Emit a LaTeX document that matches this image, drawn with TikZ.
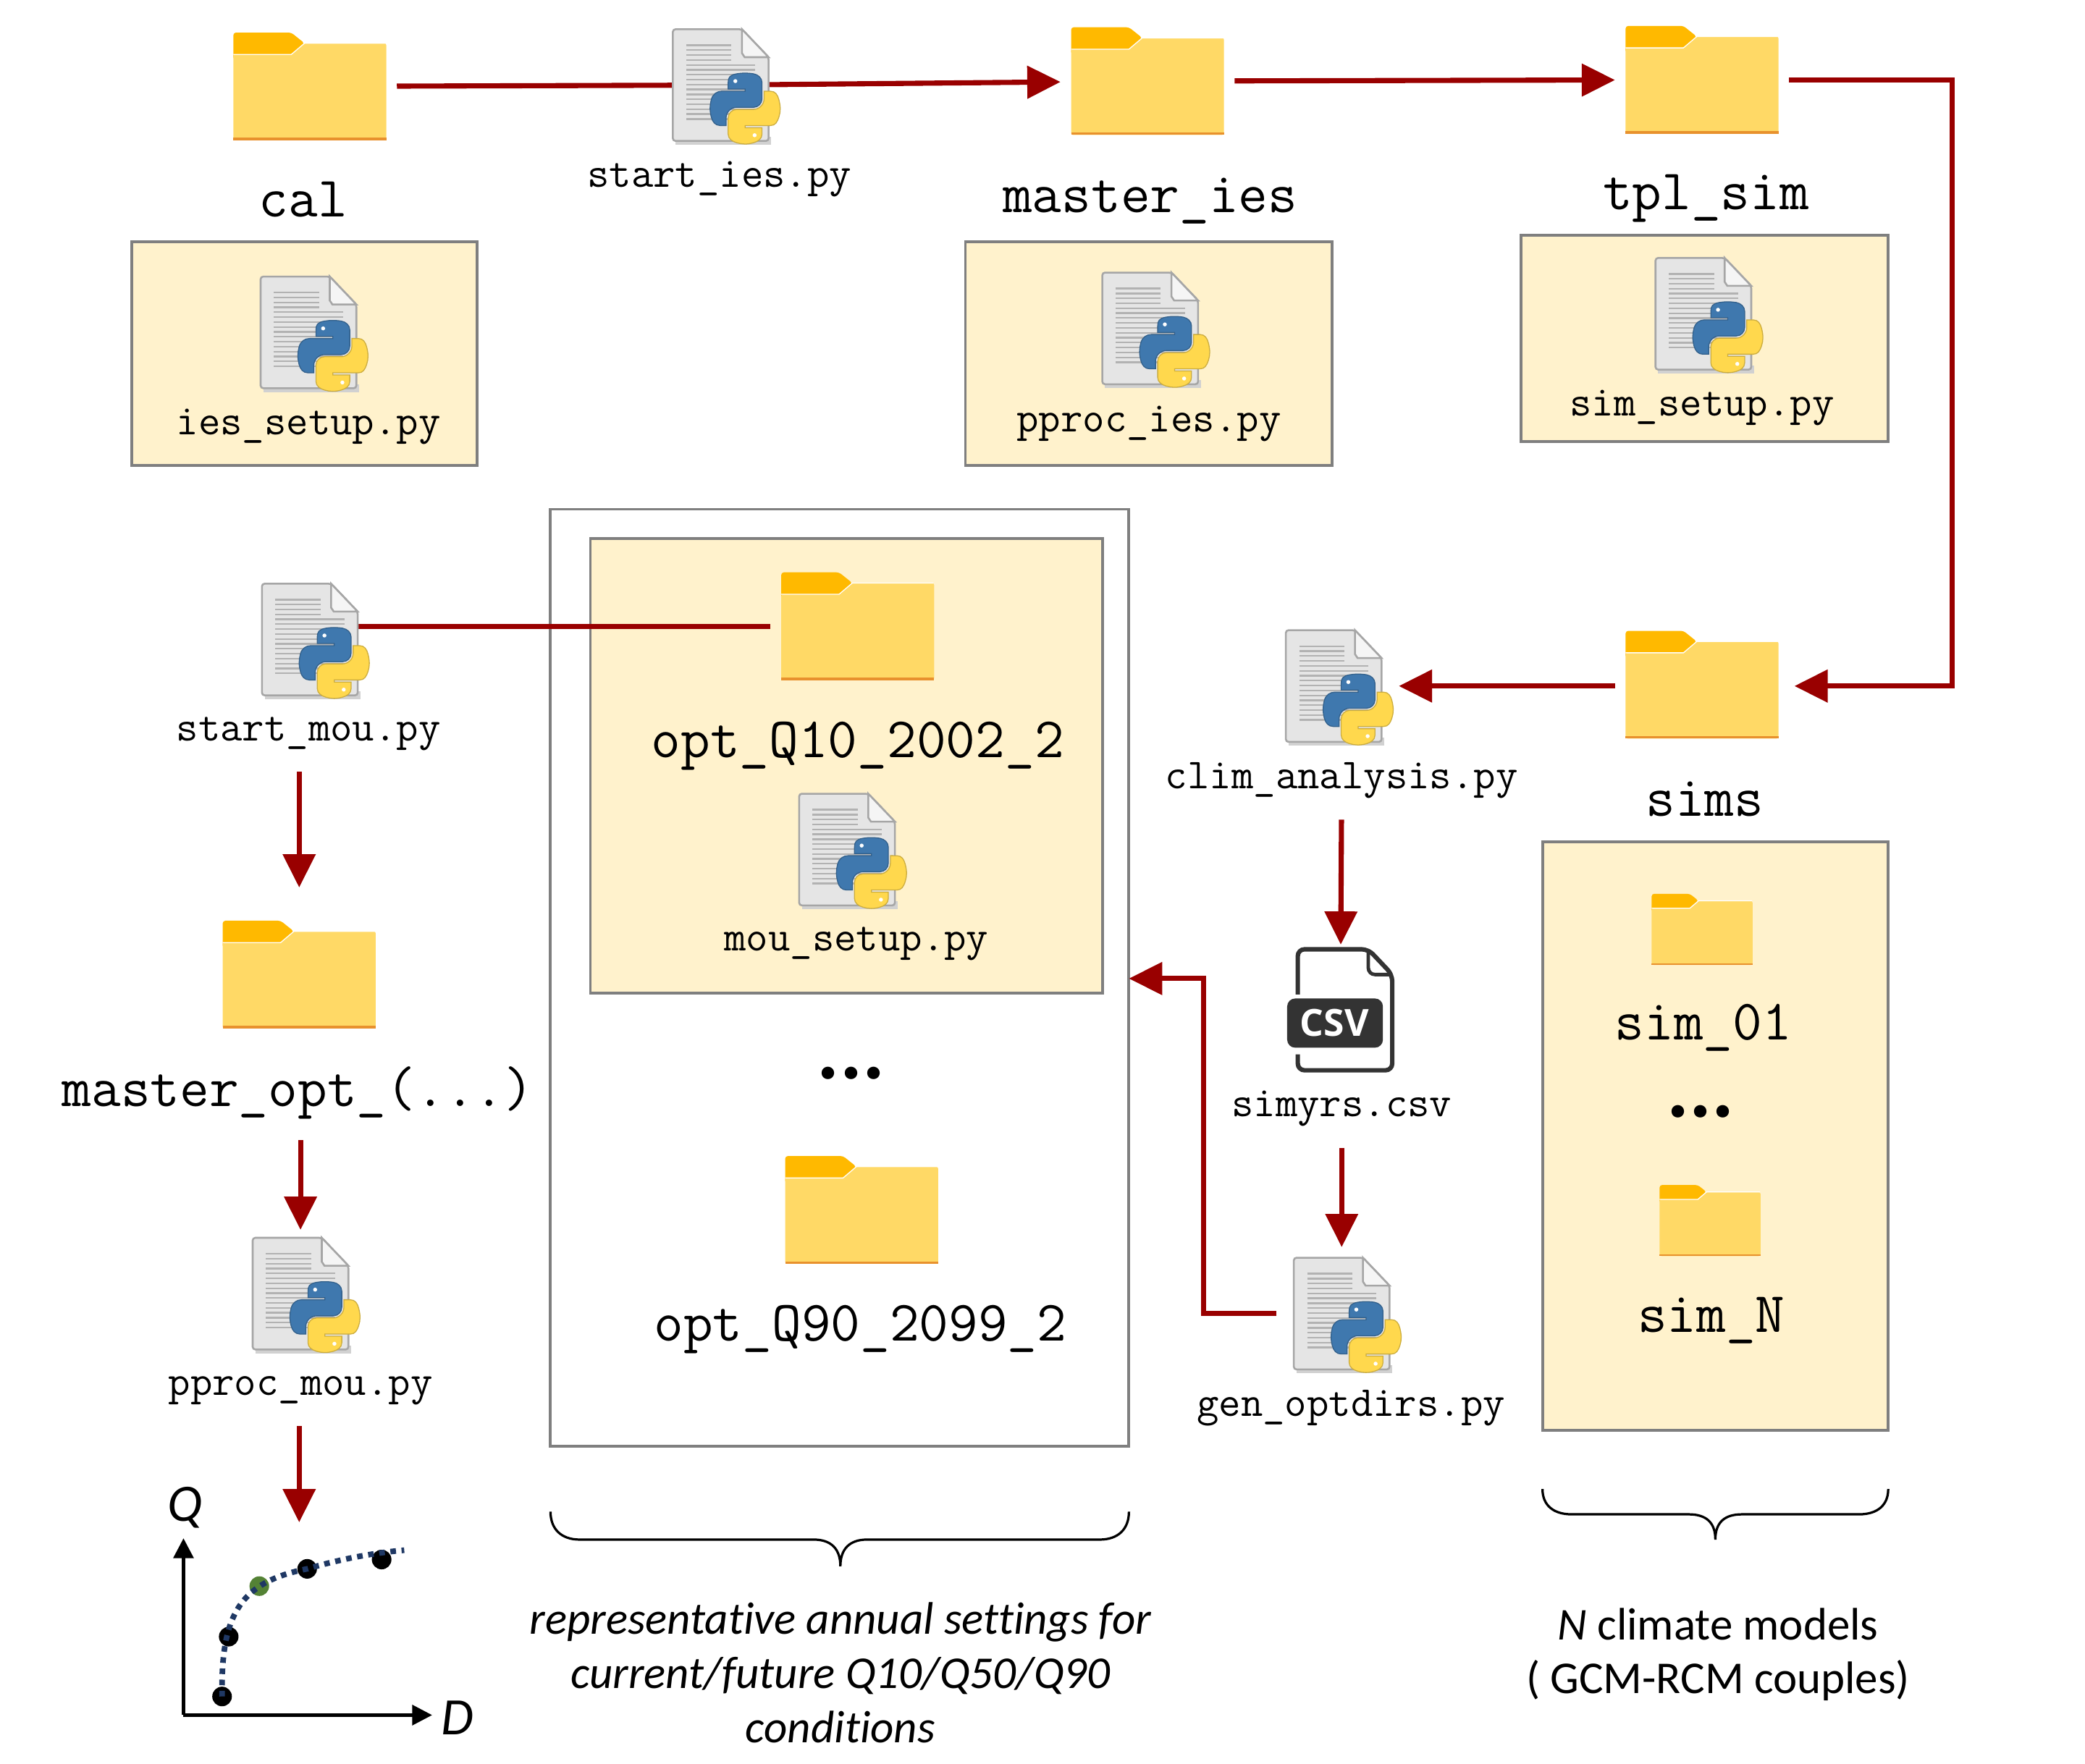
\documentclass[tikz,border=0pt]{standalone}
\usepackage{fontspec}
\usepackage{tikz}
\usetikzlibrary{arrows.meta, positioning, fit, svg.path}
\newfontfamily\calibrifont[Ligatures=NoCommon]{Carlito}
\newfontfamily\csvfont{Open Sans}
\definecolor{flowred}{HTML}{990000}
\definecolor{panelyellow}{HTML}{FFF2CC}
\definecolor{panelgrey}{HTML}{7F7F7F}
\definecolor{foldertab}{HTML}{FFB900}
\definecolor{folderbody}{HTML}{FFD966}
\definecolor{folderedge}{HTML}{E8912D}
\definecolor{curvenavy}{HTML}{1F3864}
\definecolor{pointgreen}{HTML}{548235}
\definecolor{snakeblue}{HTML}{3F78AE}
\definecolor{snakeyellow}{HTML}{FFD84D}
\definecolor{csvdark}{HTML}{333333}
\tikzset{>={Stealth[inset=0pt,length=.5cm,width=.48cm]}}
\tikzset{
	panel/.style={draw=panelgrey, line width=1.2pt, fill=panelyellow, inner sep=0pt, outer sep=0pt},
	whitepanel/.style={panel, fill=white},
	foldernode/.style={inner sep=0pt, minimum width=2.3cm, minimum height=1.62cm, outer sep=.16cm},
	smallfolder/.style={inner sep=0pt, minimum width=1.52cm, minimum height=1.08cm},
	pynode/.style={inner sep=0pt, minimum width=1.44cm, minimum height=1.68cm, outer sep=0pt},
	csvnode/.style={inner sep=0pt, minimum width=1.62cm, minimum height=1.86cm, outer sep=.06cm},
	smalllabel/.style={inner sep=0pt, outer sep=.32cm, font=\ttfamily\fontsize{18.3}{20}\selectfont},
	biglabel/.style={inner sep=0pt, outer sep=.32cm, font=\ttfamily\fontsize{24.5}{26}\selectfont},
	dotslabel/.style={inner sep=0pt, font=\calibrifont\bfseries\fontsize{36}{36}\selectfont},
	axislabel/.style={inner sep=0pt, font=\calibrifont\itshape\fontsize{22.5}{26}\selectfont},
	flow/.style={draw=flowred, line width=2.2pt},
	axisline/.style={line width=1.4pt, -{Stealth[inset=0pt,length=.3cm,width=.3cm]}},
	blackpoint/.style={circle, fill=black, inner sep=0pt, minimum size=.295cm},
	greenpoint/.style={circle, fill=pointgreen, inner sep=0pt, minimum size=.295cm},
	folder/.pic={
		\fill[foldertab, rounded corners=.04cm] (-57.5,-24) -- (-57.5,-40.5) -- (-14,-40.5) -- (-4,-32.5) -- (-14,-20) -- (-57.5,-20) -- cycle;
		\fill[folderbody, rounded corners=.03cm] (-57.5,-24) -- (-14,-24) -- (-4,-32.5) -- (57.5,-32.5) -- (57.5,40.5) -- (-57.5,40.5) -- cycle;
		\draw[white, line width=.4pt] (-57.5,-24) -- (-14,-24) -- (-4,-32.5) -- (57,-32.5);
		\fill[folderedge] (-57.5,38.7) rectangle (57.5,40.5);
	},
	pyfile/.pic={
		\fill[black!18] (-34,39) rectangle (38,45);
		\filldraw[fill=black!10, draw=black!35, line width=.8pt, rounded corners=.04cm] (-36,-42) -- (16,-42) -- (36,-21) -- (36,42) -- (-36,42) -- cycle;
		\filldraw[fill=black!4, draw=black!35, line width=.8pt] (16,-42) -- (36,-21) -- (18,-21) -- (16,-24) -- cycle;
		\foreach \yy in {-30,-26.3,-22.6,-18.9} \draw[black!30, line width=.7pt] (-26,\yy) -- (8,\yy);
		\foreach \yy in {-15.2,-11.5,...,28} \draw[black!30, line width=.7pt] (-26,\yy) -- (26,\yy);
		\filldraw[fill=snakeblue, draw=snakeblue!80!black, line width=.4pt, shift={(-8,-9)}, xscale=.27, yscale=-.27] svg {M 54.92 0 C 50.34 0.02 45.96 0.41 42.11 1.09 C 30.76 3.1 28.7 7.29 28.7 15.03 v 10.22 h 26.81 v 3.41 h -36.87 c -7.79 0 -14.62 4.68 -16.75 13.59 c -2.46 10.21 -2.57 16.59 0 27.25 c 1.91 7.94 6.46 13.59 14.25 13.59 h 9.22 v -12.25 c 0 -8.85 7.66 -16.66 16.75 -16.66 h 26.78 c 7.45 0 13.41 -6.14 13.41 -13.63 v -25.53 c 0 -7.27 -6.13 -12.72 -13.41 -13.94 C 64.28 0.33 59.5 -0.02 54.92 0 Z};
		\filldraw[fill=snakeyellow, draw=snakeyellow!80!black, line width=.4pt, shift={(-8,-9)}, xscale=.27, yscale=-.27] svg {M 85.64 28.66 v 11.91 c 0 9.23 -7.83 17 -16.75 17 h -26.78 c -7.34 0 -13.41 6.28 -13.41 13.63 v 25.53 c 0 7.27 6.32 11.54 13.41 13.63 c 8.49 2.5 16.63 2.95 26.78 0 c 6.75 -1.95 13.41 -5.89 13.41 -13.63 v -10.22 h -26.78 v -3.41 h 40.19 c 7.79 0 10.7 -5.44 13.41 -13.59 c 2.8 -8.4 2.74 -16.48 0 -27.25 c -1.93 -7.76 -5.6 -13.59 -13.41 -13.59 Z};
		\fill[white] (11,-3) circle (1.5);
		\fill[white] (25.5,37.7) circle (1.5);
	},
	csvfile/.pic={
		\draw[csvdark, line width=1.9pt, rounded corners=.1cm] (-32,-12) -- (-32,-46) -- (21,-46) -- (39,-27) -- (39,45) -- (-32,45) -- (-32,33);
		\draw[csvdark, line width=1.5pt, rounded corners=.1cm] (21,-46) -- (21,-27) -- (39,-27);
		\fill[csvdark, rounded corners=.12cm] (-40,-9) rectangle (32,28);
		\node[inner sep=0pt, text=white, font=\csvfont\bfseries\fontsize{16}{18}\selectfont] at (-4.5,9.5) {CSV};
	},
}
\begin{document}
\begin{tikzpicture}[x=.02cm, y=-.02cm]

	\useasboundingbox (0,0) rectangle (1568,1326.3);

	% panels
	\node[panel, fit={(99,182) (359,350)}] (calbox) {};
	\node[panel, fit={(726,182) (1002,350)}] (masterbox) {};
	\node[panel, fit={(1144,177) (1420,332)}] (tplbox) {};
	\node[panel, fit={(1160,633) (1420,1076)}] (simsbox) {};
	\node[whitepanel, fit={(414,383) (849,1088)}] (optbox) {};
	\node[panel, fit={(444,405) (829,747)}] (qtenbox) {};

	% icons
	\node[foldernode] (cal) at (233,65) {};
	\node[foldernode] (masteries) at (863,61) {};
	\node[foldernode] (tplsim) at (1280,60) {};
	\node[foldernode] (sims) at (1280,515) {};
	\node[foldernode] (optqten) at (645,471) {};
	\node[foldernode] (optqninety) at (648,910) {};
	\node[foldernode] (masteropt) at (225,733) {};
	\node[smallfolder] (simone) at (1280,699) {};
	\node[smallfolder] (simn) at (1286,918) {};
	\node[pynode] (starties) at (542,64) {};
	\node[pynode] (iessetup) at (232,250) {};
	\node[pynode] (pprocies) at (865,247) {};
	\node[pynode] (simsetup) at (1281,236) {};
	\node[pynode] (startmou) at (233,481) {};
	\node[pynode] (mousetup) at (637,639) {};
	\node[pynode] (climan) at (1003,516) {};
	\node[pynode] (genopt) at (1009,988) {};
	\node[pynode] (pprocmou) at (226,973) {};
	\node[csvnode] (simyrs) at (1008,760) {};

	% labels
	\node[biglabel] (callbl) at (228,150) {cal};
	\node[biglabel] (masterieslbl) at (865,151) {master\_ies};
	\node[biglabel] (tplsimlbl) at (1283,149) {tpl\_sim};
	\node[biglabel] (simslbl) at (1282,601) {sims};
	\node[biglabel] (simonelbl) at (1281,773) {sim\_01};
	\node[biglabel] (simnlbl) at (1287,993) {sim\_N};
	\node[biglabel] (optqtenlbl) at (645,561) {opt\_Q10\_2002\_2};
	\node[biglabel] (optqninetylbl) at (647,1000) {opt\_Q90\_2099\_2};
	\node[biglabel] (masteroptlbl) at (224,822) {master\_opt\_(...)};
	\node[smalllabel] (startieslbl) at (541,135) {start\_ies.py};
	\node[smalllabel] (iessetuplbl) at (232,321) {ies\_setup.py};
	\node[smalllabel] (pprocieslbl) at (864,319) {pproc\_ies.py};
	\node[smalllabel] (simsetuplbl) at (1280,307) {sim\_setup.py};
	\node[smalllabel] (startmoulbl) at (232,552) {start\_mou.py};
	\node[smalllabel] (mousetuplbl) at (644,710) {mou\_setup.py};
	\node[smalllabel] (climanlbl) at (1009,587) {clim\_analysis.py};
	\node[smalllabel] (simyrslbl) at (1009,834) {simyrs.csv};
	\node[smalllabel] (genoptlbl) at (1016,1059) {gen\_optdirs.py};
	\node[smalllabel] (pprocmoulbl) at (226,1046) {pproc\_mou.py};
	\node[dotslabel] (optdots) at (640,807) {...};
	\node[dotslabel] (simdots) at (1279,836) {...};

	% connectors
	\coordinate (tplcorner) at (1468,60);
	\coordinate (simscorner) at (1468,516);
	\coordinate (chartin) at (225,1145);
	\draw[flow] (cal) -- (starties);
	\draw[flow, ->] (starties) -- (masteries);
	\draw[flow, ->] (masteries) -- (tplsim);
	\draw[flow, ->, shorten >=.08cm] (tplsim.east) -- (tplcorner) -- (simscorner) -- (sims.east |- simscorner);
	\draw[flow, ->, shorten >=.26cm] (sims.west |- simscorner) -- (climan.east |- simscorner);
	\draw[flow, ->] (climanlbl) -- (simyrs);
	\draw[flow, ->, shorten >=.16cm] (simyrslbl) -- (genopt);
	\draw[flow, ->, shorten <=.26cm] (genopt.west) -- (905,988) -- (905,736) -- (optbox.east |- 0,736);
	\draw[flow] (startmou.east |- optqten.west) -- (optqten.west);
	\draw[flow, ->, shorten >=.34cm] (masteropt |- startmoulbl.south) -- (masteropt.north);
	\draw[flow, ->, shorten >=.12cm] (masteroptlbl.south -| pprocmou) -- (pprocmou.north);
	\draw[flow, ->] (chartin |- pprocmoulbl.south) -- (chartin);

	\foreach \n in {cal,masteries,tplsim,sims,optqten,optqninety,masteropt}
		\pic at (\n) {folder};
	\pic[scale=.66] at (simone) {folder};
	\pic[scale=.66] at (simn) {folder};
	\foreach \n in {starties,iessetup,pprocies,simsetup,startmou,mousetup,climan,genopt,pprocmou}
		\pic at (\n) {pyfile};
	\pic at (simyrs) {csvfile};

	% chart
	\coordinate (origin) at (138,1290);
	\coordinate (qtip) at (138,1157);
	\coordinate (dtip) at (325,1290);
	\draw[axisline] (origin) -- (qtip);
	\draw[axisline] (origin) -- (dtip);
	\node[axislabel] (qlbl) at (139,1134) {Q};
	\node[axislabel] (dlbl) at (344,1292) {D};
	\node[blackpoint] (pa) at (167,1276) {};
	\node[blackpoint] (pb) at (172,1231) {};
	\node[greenpoint] (pc) at (195,1193) {};
	\node[blackpoint] (pd) at (231,1180) {};
	\node[blackpoint] (pe) at (287,1173) {};
	\coordinate (curveend) at (304,1166);
	\draw[curvenavy, line width=2.4pt, dash pattern=on 2.4pt off 2.4pt] (pa.center) .. controls (166,1215) and (180,1190) .. (pd.center) .. controls (255,1173) and (280,1168) .. (curveend);

	% braces and notes
	\draw[line width=1pt] (414,1137) .. controls (414,1150) and (422,1158) .. (436,1158) -- (612,1158) .. controls (625,1158) and (632,1165) .. (632,1178) .. controls (632,1165) and (639,1158) .. (652,1158) -- (827,1158) .. controls (841,1158) and (849,1150) .. (849,1137);
	\draw[line width=1pt] (1160,1120) .. controls (1160,1132) and (1168,1139) .. (1182,1139) -- (1270,1139) .. controls (1283,1139) and (1290,1145) .. (1290,1158) .. controls (1290,1145) and (1297,1139) .. (1310,1139) -- (1398,1139) .. controls (1412,1139) and (1420,1132) .. (1420,1120);
	\node[inner sep=0pt, align=center, font=\calibrifont\itshape\fontsize{19.5}{23.3}\selectfont] (optnote) at (632,1258) {representative annual settings for\\current/future Q10/Q50/Q90\\conditions};
	\node[inner sep=0pt, align=center, font=\calibrifont\fontsize{19.5}{22.8}\selectfont] (simsnote) at (1292,1244.5) {\textit{N} climate models\\( GCM-RCM couples)};

\end{tikzpicture}
\end{document}
